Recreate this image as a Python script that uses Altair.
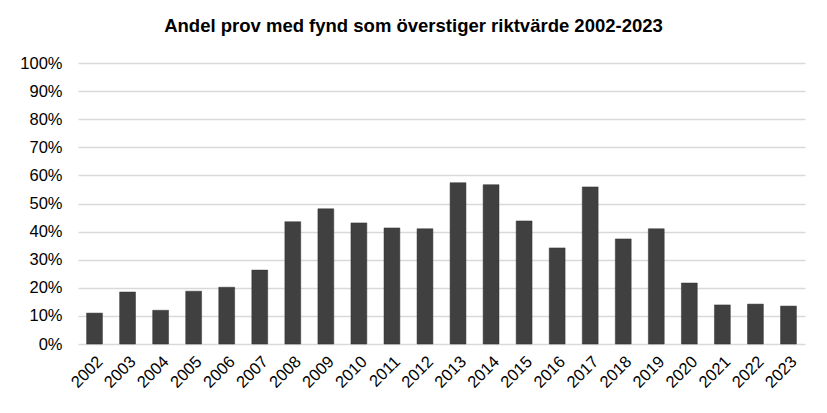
import altair as alt
import pandas as pd

years = [str(y) for y in range(2002, 2024)]
values = [0.110, 0.185, 0.120, 0.188, 0.202, 0.263, 0.435, 0.481, 0.431, 0.413,
          0.410, 0.574, 0.567, 0.438, 0.342, 0.559, 0.374, 0.410, 0.217, 0.139,
          0.142, 0.135]
y_ticks = [i / 10 for i in range(0, 11)]

df = pd.DataFrame({"year": years, "value": values})

chart = alt.Chart(df).mark_bar(color="#404040", stroke="#333333", strokeWidth=0.5).encode(
    x=alt.X("year:N", sort=years, title=None,
            scale=alt.Scale(paddingInner=0.52, paddingOuter=0.26),
            axis=alt.Axis(labelAngle=-45, labelFontSize=16.5, labelColor="#000000",
                          labelFont="Liberation Sans", ticks=False, domain=False,
                          labelPadding=9)),
    y=alt.Y("value:Q", title=None,
            scale=alt.Scale(domain=[0, 1], nice=False),
            axis=alt.Axis(values=y_ticks, format=".0%", labelFontSize=16.5,
                          labelColor="#000000", labelFont="Liberation Sans",
                          ticks=False, domain=False, gridColor="#d9d9d9",
                          gridWidth=1.5, labelPadding=16)),
).properties(
    width=727,
    height=281,
    autosize=alt.AutoSizeParams(type="none"),
    padding={"left": 70, "top": 55, "right": 14, "bottom": 62},
    title=alt.TitleParams("Andel prov med fynd som överstiger riktvärde 2002-2023",
                          font="Liberation Sans", fontSize=18.5, fontWeight="bold",
                          color="#000000", offset=20, dx=-28),
).configure_view(stroke=None)

chart.save("out.html", embed_options={"renderer": "svg", "actions": False})
